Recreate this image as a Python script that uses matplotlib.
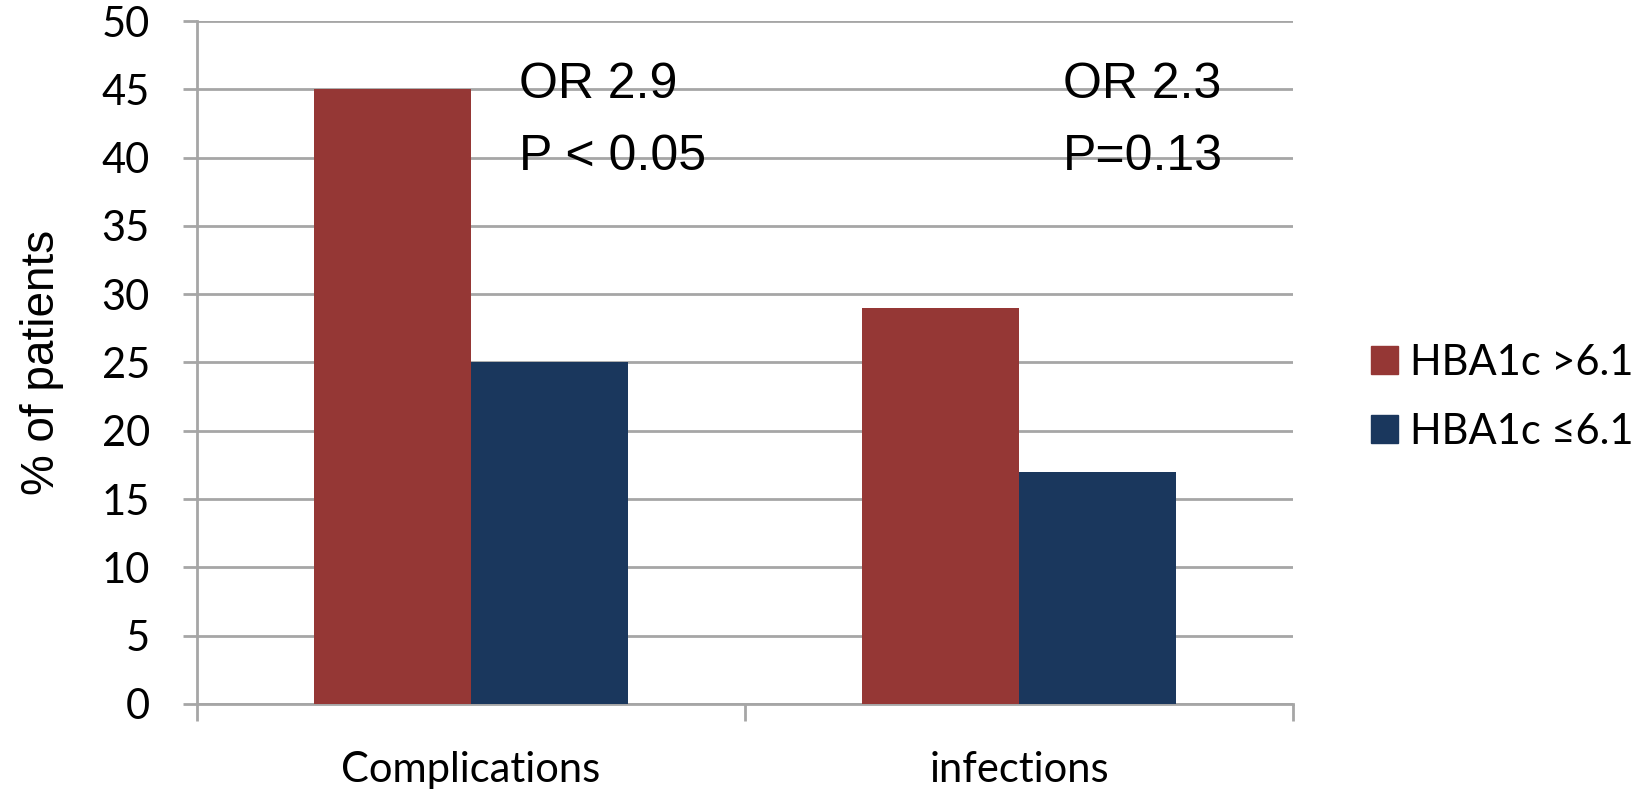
import numpy as np
import matplotlib.pyplot as plt
from matplotlib.patches import Patch

categories = ["Complications", "infections"]
high_hba1c = [45, 29]
low_hba1c = [25, 17]
series_names = ["HBA1c >6.1", "HBA1c \u22646.1"]
notes = [("OR 2.9", "P < 0.05"), ("OR 2.3", "P=0.13")]

red = "#953735"
blue = "#1a375d"
grid_col = "#a6a6a6"

fig = plt.figure(figsize=(16.5, 7.9), dpi=100)
ax = fig.add_axes([0.1194, 0.1089, 0.6642, 0.8645])

x = np.arange(len(categories))
w = 1 / 3.5
ax.bar(x - w / 2, high_hba1c, w, color=red, zorder=3)
ax.bar(x + w / 2, low_hba1c, w, color=blue, zorder=3)

ax.set_xlim(-0.5, len(categories) - 0.5)
ax.set_ylim(0, 50)
ax.set_yticks(np.arange(0, 51, 5))
ax.yaxis.grid(True, color=grid_col, linewidth=2, zorder=0)

for s in ["top", "right"]:
    ax.spines[s].set_visible(False)
for s in ["left", "bottom"]:
    ax.spines[s].set_color(grid_col)
    ax.spines[s].set_linewidth(2)

ax.tick_params(axis="y", length=10, width=2, color=grid_col, pad=24,
               labelsize=30, labelfontfamily="Lato")
ax.set_xticks(x)
ax.set_xticklabels(categories, fontsize=30, fontfamily="Lato")
ax.tick_params(axis="x", length=0, pad=34)
ax.set_xticks(np.arange(-0.5, len(categories), 1), minor=True)
ax.tick_params(axis="x", which="minor", length=12, width=2, color=grid_col)

ax.set_ylabel("% of patients", fontsize=33, fontfamily="Liberation Sans", labelpad=27)

note_x = [0.088, 1.080]
for i, (a, b) in enumerate(notes):
    ax.text(note_x[i], 44.4, a, fontsize=36, fontfamily="Liberation Sans", va="baseline", zorder=4)
    ax.text(note_x[i], 39.1, b, fontsize=36, fontfamily="Liberation Sans", va="baseline", zorder=4)

handles = [Patch(color=red), Patch(color=blue)]
fig.legend(handles, series_names, loc="center left", bbox_to_anchor=(0.808, 0.497),
           frameon=False, prop={"family": "Lato", "size": 30},
           handlelength=0.65, handleheight=0.65, handletextpad=0.3, labelspacing=0.75)

fig.savefig("out.png", dpi=100)
